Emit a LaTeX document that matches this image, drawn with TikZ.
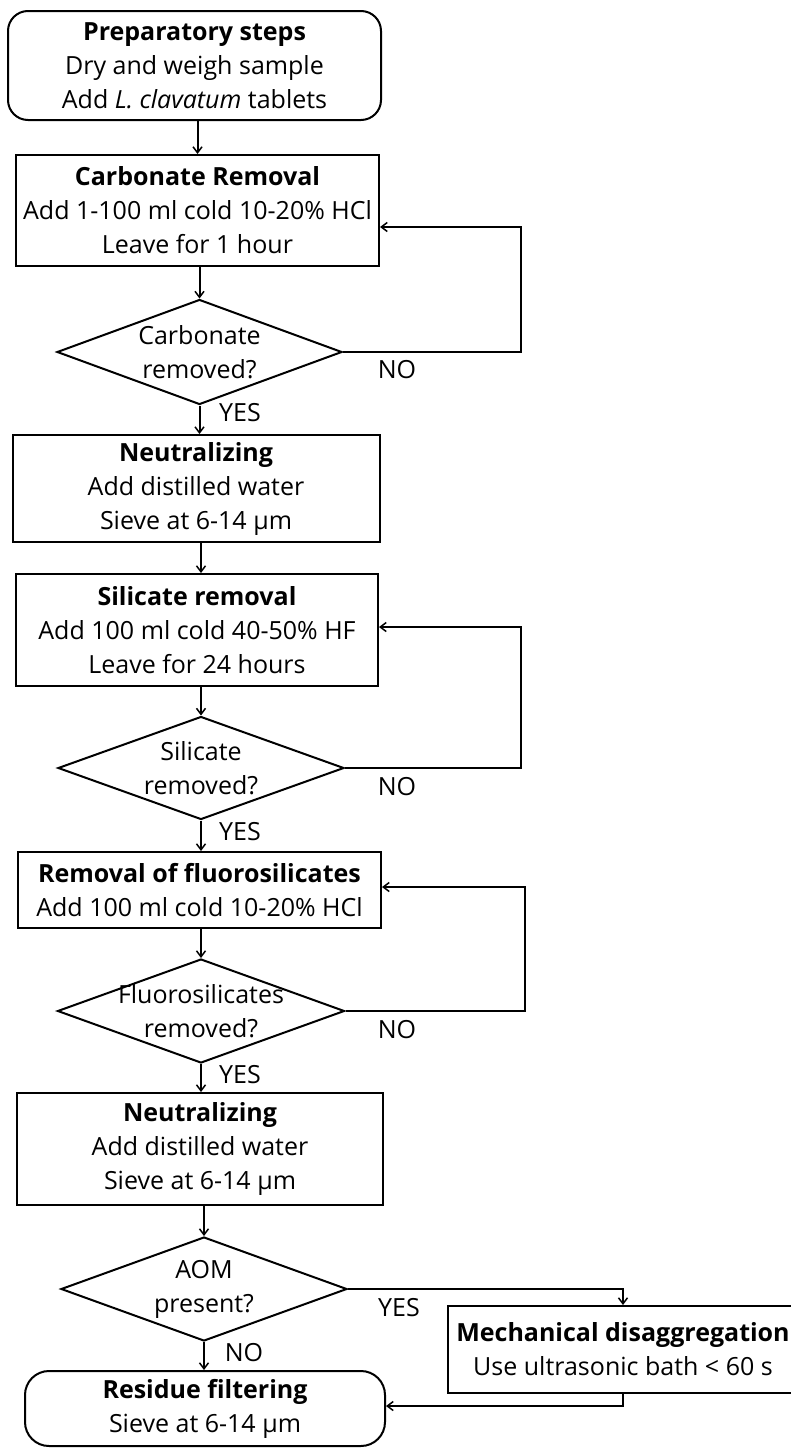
\documentclass[tikz,border=0pt]{standalone}
\usepackage{fontspec}
\setmainfont{Open Sans}
\usetikzlibrary{shapes.geometric,arrows.meta}
\tikzset{
  every node/.style={font=\fontsize{25}{34}\selectfont},
  box/.style={draw, line width=2pt, align=center, inner sep=0pt},
  rbox/.style={box, rounded corners=20pt},
  dia/.style={draw, diamond, line width=2pt, inner sep=0pt},
  arr/.style={line width=2pt, -{Straight Barb[length=6pt,width=9pt,line width=1.5pt]}},
  lbl/.style={inner sep=0pt}
}
\begin{document}
\begin{tikzpicture}[x=1pt,y=-1pt]
\useasboundingbox (0,0) rectangle (790,1448);
\fill[white] (0,0) rectangle (790,1448);
% boxes
\node[rbox, minimum width=373, minimum height=109] (b1) at (194.5,65.5)
  {\textbf{Preparatory steps}\\Dry and weigh sample\\Add \textit{L. clavatum} tablets};
\node[box, minimum width=363, minimum height=111] (b2) at (197.5,210.5)
  {\textbf{Carbonate Removal}\\Add 1-100 ml cold 10-20\% HCl\\Leave for 1 hour};
\node[dia, minimum width=285, minimum height=105] (d1) at (199.5,352) {};
\node[lbl, align=center] (t1) at (d1.center) {Carbonate\\removed?};
\node[box, minimum width=367, minimum height=107] (b3) at (196,488.5)
  {\textbf{Neutralizing}\\Add distilled water\\Sieve at 6-14 µm};
\node[box, minimum width=362, minimum height=112] (b4) at (197,630)
  {\textbf{Silicate removal}\\Add 100 ml cold 40-50\% HF\\Leave for 24 hours};
\node[dia, minimum width=286, minimum height=103] (d2) at (201,768) {};
\node[lbl, align=center] (t2) at (d2.center) {Silicate\\removed?};
\node[box, minimum width=363, minimum height=76] (b5) at (199.5,890)
  {\textbf{Removal of fluorosilicates}\\Add 100 ml cold 10-20\% HCl};
\node[dia, minimum width=287, minimum height=104] (d3) at (201,1011) {};
\node[lbl, align=center] (t3) at (d3.center) {Fluorosilicates\\removed?};
\node[box, minimum width=366, minimum height=112] (b6) at (200,1149)
  {\textbf{Neutralizing}\\Add distilled water\\Sieve at 6-14 µm};
\node[dia, minimum width=286, minimum height=104] (d4) at (204,1289) {};
\node[lbl, align=center] (t4) at (d4.center) {AOM\\present?};
\node[box, minimum width=350, minimum height=87] (b7) at (623,1349.5)
  {\textbf{Mechanical disaggregation}\\Use ultrasonic bath < 60 s};
\node[rbox, rounded corners=24pt, minimum width=360, minimum height=75] (b8) at (205,1408.5)
  {\textbf{Residue filtering}\\Sieve at 6-14 µm};
% main arrows
\draw[arr] (b1.south -| b2.north) -- (b2.north);
\draw[arr] (b2.south -| d1.north) -- (d1.north);
\draw[arr] (d1.south) -- (d1.south |- b3.north);
\draw[arr] (b3.south -| d2.north) -- (b4.north -| d2.north);
\draw[arr] (b4.south -| d2.north) -- (d2.north);
\draw[arr] (d2.south) -- (d2.south |- b5.north);
\draw[arr] (b5.south -| d3.north) -- (d3.north);
\draw[arr] (d3.south) -- (d3.south |- b6.north);
\draw[arr] (b6.south -| d4.north) -- (d4.north);
\draw[arr] (d4.south) -- (d4.south |- b8.north);
% loops
\coordinate (c1) at (521,227);
\coordinate (c2) at (521,627);
\coordinate (c3) at (525,887);
\coordinate (c4) at (623,1406);
\draw[arr] (d1.east) -| (c1) -- (c1 -| b2.east);
\draw[arr] (d2.east) -| (c2) -- (c2 -| b4.east);
\draw[arr] (d3.east) -| (c3) -- (c3 -| b5.east);
\draw[arr] (d4.east) -| (b7.north);
\draw[arr] (b7.south) -- (c4) -- (c4 -| b8.east);
% labels
\node[lbl] (n1) at (397,370) {NO};
\node[lbl] (y1) at (240,413) {YES};
\node[lbl] (n2) at (397,787) {NO};
\node[lbl] (y2) at (240,832) {YES};
\node[lbl] (n3) at (397,1030) {NO};
\node[lbl] (y3) at (240,1075) {YES};
\node[lbl] (y4) at (399,1308) {YES};
\node[lbl] (n4) at (244,1353) {NO};
\end{tikzpicture}
\end{document}
